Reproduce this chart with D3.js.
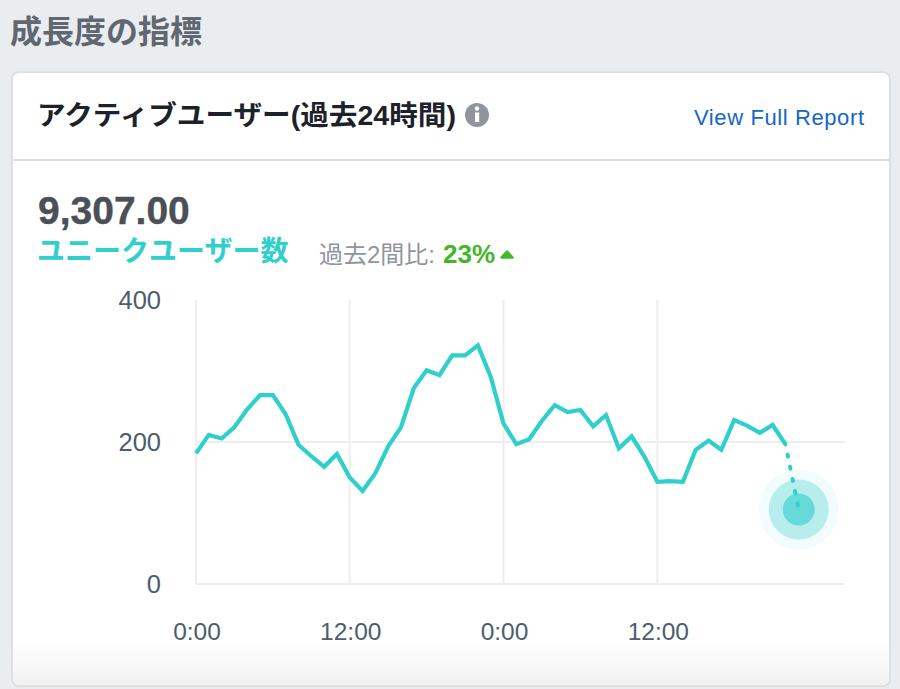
<!DOCTYPE html>
<html><head><meta charset="utf-8">
<script src="https://cdnjs.cloudflare.com/ajax/libs/d3/7.8.5/d3.min.js"></script>
<style>
html,body{margin:0;padding:0;background:#e9edf0;overflow:hidden}
svg{display:block}
text{font-family:"Liberation Sans","Noto Sans CJK JP",sans-serif}
</style></head><body>
<div id="c"></div>
<script>
const values=[184,210,205,221,246,266,266,239,196,180,165,183,150,131,156,194,221,276,301,294,322,322,336,292,226,197,204,230,252,242,245,222,238,191,208,179,144,145,144,189,202,189,231,223,213,224,197];
const projectedValue=105;
const xTicks=[0,12,24,36];
const xTickLabels=["0:00","12:00","0:00","12:00"];
const yTicks=[0,200,400];
const pageTitle="成長度の指標";
const cardTitle="アクティブユーザー(過去24時間)";
const linkLabel="View Full Report";
const bigNumber="9,307.00";
const seriesLabel="ユニークユーザー数";
const compareLabel="過去2間比:";
const compareValue="23%";

const W=900,H=689;
const svg=d3.select("#c").append("svg").attr("width",W).attr("height",H);
const defs=svg.append("defs");
const grad=defs.append("linearGradient").attr("id","fade").attr("x1",0).attr("x2",0).attr("y1",0).attr("y2",1);
grad.append("stop").attr("offset",0).attr("stop-color","#fff");
grad.append("stop").attr("offset",1).attr("stop-color","#f1f1f2");

svg.append("text").attr("x",10).attr("y",43).attr("font-size",32).attr("font-weight",700).attr("fill","#606770").text(pageTitle);

// card
svg.append("rect").attr("x",12).attr("y",72).attr("width",878).attr("height",614).attr("rx",7).attr("fill","#fff").attr("stroke","#dddfe2").attr("stroke-width",2);
svg.append("path").attr("d","M13 640H889V679a6 6 0 0 1 -6 6H19a6 6 0 0 1 -6 -6Z").attr("fill","url(#fade)");
svg.append("rect").attr("x",13).attr("y",159).attr("width",876).attr("height",2).attr("fill","#dddfe2");

svg.append("text").attr("x",37).attr("y",125).attr("font-size",27.5).attr("font-weight",700).attr("fill","#1d2129").attr("textLength",419).attr("lengthAdjust","spacingAndGlyphs").text(cardTitle);
svg.append("circle").attr("cx",477).attr("cy",115).attr("r",12).attr("fill","#90949c");
svg.append("circle").attr("cx",477).attr("cy",108.5).attr("r",2.2).attr("fill","#fff");
svg.append("rect").attr("x",475).attr("y",112.5).attr("width",4.2).attr("height",9.5).attr("fill","#fff");
svg.append("text").attr("x",864).attr("y",125).attr("text-anchor","end").attr("font-size",22).attr("fill","#1466c8").attr("textLength",170).text(linkLabel);

svg.append("text").attr("x",38).attr("y",224).attr("font-size",39).attr("font-weight",700).attr("fill","#4b4f56").attr("stroke","#4b4f56").attr("stroke-width",0.4).text(bigNumber);
svg.append("text").attr("x",37).attr("y",261).attr("font-size",28).attr("font-weight",700).attr("fill","#2fd0cc").text(seriesLabel);
svg.append("text").attr("x",319).attr("y",263).attr("font-size",24).attr("fill","#90949c").text(compareLabel);
svg.append("text").attr("x",443).attr("y",263).attr("font-size",26).attr("font-weight",700).attr("fill","#42b72a").text(compareValue);
svg.append("path").attr("d","M507 251.5L512.5 257.5H501.5Z").attr("fill","#42b72a").attr("stroke","#42b72a").attr("stroke-width",2.5).attr("stroke-linejoin","round");

// chart
const x=d3.scaleLinear().domain([0,50.65]).range([196,845]);
const y=d3.scaleLinear().domain([0,400]).range([584,300]);

const gy=svg.append("g");
gy.selectAll("line").data(yTicks.filter(d=>d<400)).join("line")
  .attr("x1",x(0)).attr("x2",x.range()[1]).attr("y1",d=>y(d)).attr("y2",d=>y(d))
  .attr("stroke","#eeeeef").attr("stroke-width",2);
const gx=svg.append("g");
gx.selectAll("line").data(xTicks).join("line")
  .attr("x1",d=>x(d)).attr("x2",d=>x(d)).attr("y1",y(400)).attr("y2",y(0))
  .attr("stroke","#eeeeef").attr("stroke-width",2);

svg.append("g").selectAll("text").data(yTicks).join("text")
  .attr("x",161).attr("y",d=>y(d)+9).attr("text-anchor","end").attr("font-size",25.5).attr("fill","#4b5d6e").text(d=>d);
svg.append("g").selectAll("text").data(xTicks).join("text")
  .attr("x",d=>x(d)+1).attr("y",640).attr("text-anchor","middle").attr("font-size",24.5).attr("fill","#4b5d6e").text((d,i)=>xTickLabels[i]);

const last=values.length-1;
const dotX=x(last+1)+0.5, dotY=y(projectedValue);
[[40,0.06],[30,0.3],[16,0.6]].forEach(([r,o])=>{
  svg.append("circle").attr("cx",dotX).attr("cy",dotY).attr("r",r).attr("fill","#2fcdc9").attr("fill-opacity",o);
});

const line=d3.line().x((d,i)=>x(i)).y(d=>y(d));
svg.append("path").datum(values).attr("d",line).attr("fill","none").attr("stroke","#2fd0cc").attr("stroke-width",4.2).attr("stroke-linejoin","miter");
svg.append("line").attr("x1",x(last)).attr("y1",y(values[last])).attr("x2",dotX).attr("y2",dotY)
  .attr("stroke","#2fd0cc").attr("stroke-width",4).attr("stroke-linecap","round")
  .attr("stroke-dasharray","2 10.4").attr("stroke-dashoffset",-10.7);
</script></body></html>
